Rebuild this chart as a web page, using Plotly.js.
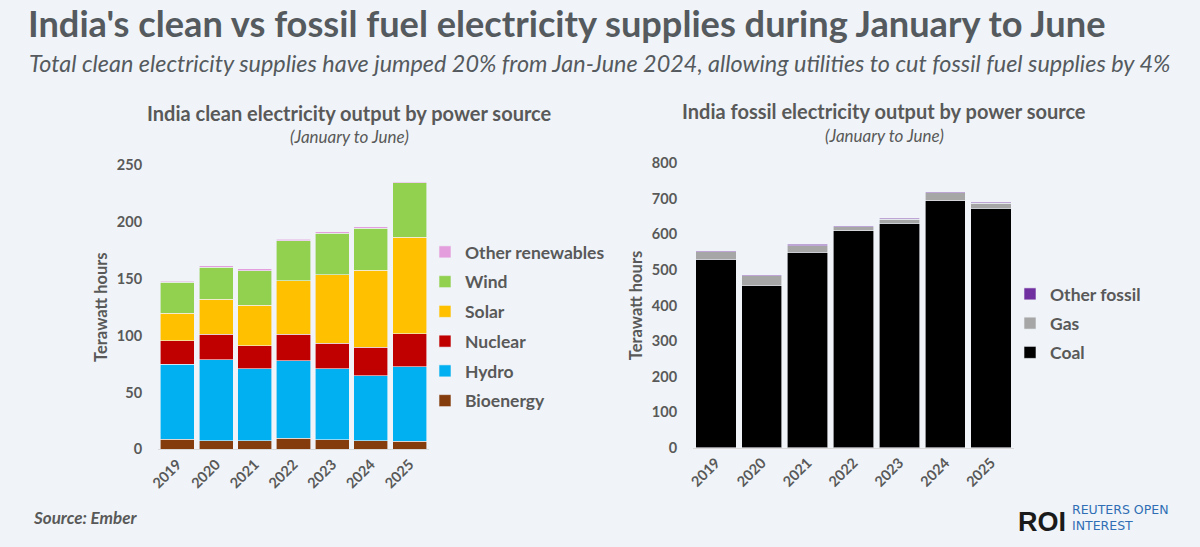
<!DOCTYPE html>
<html>
<head>
<meta charset="utf-8">
<script src="https://cdn.plot.ly/plotly-3.0.1.min.js"></script>
<style>html,body{margin:0;padding:0;background:#f0f4f8;}</style>
</head>
<body>
<div id="chart" style="width:1200px;height:547px;"></div>
<script>
// ---- Data (TWh, January to June) ----
const years = ['2019', '2020', '2021', '2022', '2023', '2024', '2025'];

const bioenergy       = [8.8, 7.6, 7.6, 9.7, 8.5, 7.6, 7.0];
const hydro           = [66.0, 71.2, 63.3, 68.0, 62.4, 56.9, 65.4];
const nuclear         = [20.5, 22.3, 20.2, 23.4, 22.3, 25.2, 29.3];
const solar           = [24.5, 30.8, 35.5, 47.2, 60.1, 67.7, 84.8];
const wind            = [27.3, 28.4, 30.5, 35.2, 36.7, 37.2, 48.0];
const otherRenewables = [0.8, 0.9, 1.5, 1.2, 1.1, 1.2, 0.9];

const coal        = [530, 457, 550, 610, 632, 695, 674];
const gas         = [20.6, 26, 18.5, 11, 11, 22, 13];
const otherFossil = [3.8, 3, 3.5, 3, 3, 3, 3];

const cleanNames  = ['Bioenergy', 'Hydro', 'Nuclear', 'Solar', 'Wind', 'Other renewables'];
const cleanSeries = [bioenergy, hydro, nuclear, solar, wind, otherRenewables];
const cleanColors = ['#843c0c', '#00b0f0', '#c00000', '#ffc000', '#92d050', '#e49edd'];

const fossilNames  = ['Coal', 'Gas', 'Other fossil'];
const fossilSeries = [coal, gas, otherFossil];
const fossilColors = ['#000000', '#a6a6a6', '#7030a0'];

// ---- Styling ----
const BG = '#f0f4f8';
const TXT = '#595959';
const SANS = 'Lato, "Open Sans", sans-serif';

const traces = [];
cleanSeries.forEach((vals, i) => {
  traces.push({
    type: 'bar', x: years, y: vals, name: cleanNames[i],
    marker: {color: cleanColors[i], line: {color: BG, width: 0.6}},
    xaxis: 'x', yaxis: 'y', legend: 'legend', legendgroup: 'c' + i,
    legendrank: 100 - i,
    hoverinfo: 'x+y+name'
  });
});
fossilSeries.forEach((vals, i) => {
  traces.push({
    type: 'bar', x: years, y: vals, name: fossilNames[i],
    marker: {color: fossilColors[i], line: {color: BG, width: 0.6}},
    xaxis: 'x2', yaxis: 'y2', legend: 'legend2', legendgroup: 'f' + i,
    legendrank: 100 - i,
    hoverinfo: 'x+y+name'
  });
});

const H = 547, W = 1200;
const py = v => 1 - v / H;
const px = v => v / W;

const tickFont = {family: SANS, size: 14.5, color: TXT, weight: 700};
const axTitleFont = {family: SANS, size: 16.5, color: TXT, weight: 700};
const legFont = {family: SANS, size: 17.5, color: TXT, weight: 700};

const layout = {
  width: W, height: H,
  margin: {l: 0, r: 0, t: 0, b: 0},
  paper_bgcolor: BG, plot_bgcolor: BG,
  barmode: 'stack', bargap: 0.12,
  showlegend: true,
  font: {family: SANS, color: TXT},
  xaxis: {
    type: 'category',
    domain: [px(158), px(429)], anchor: 'y',
    tickangle: -45, tickfont: tickFont,
    showline: true, linecolor: '#d9d9d9', linewidth: 1,
    ticks: '', showgrid: false
  },
  yaxis: {
    domain: [py(449.3), py(165)], anchor: 'x',
    range: [0, 250], dtick: 50, tickfont: tickFont,
    showgrid: false, zeroline: false, ticks: 'outside', ticklen: 12, tickcolor: BG,
    title: {text: 'Terawatt hours', font: axTitleFont, standoff: 5}
  },
  xaxis2: {
    type: 'category',
    domain: [px(693), px(1014)], anchor: 'y2',
    tickangle: -45, tickfont: tickFont,
    showline: true, linecolor: '#d9d9d9', linewidth: 1,
    ticks: '', showgrid: false
  },
  yaxis2: {
    domain: [py(447.7), py(163.3)], anchor: 'x2',
    range: [0, 800], dtick: 100, tickfont: tickFont,
    showgrid: false, zeroline: false, ticks: 'outside', ticklen: 12, tickcolor: BG,
    title: {text: 'Terawatt hours', font: axTitleFont, standoff: 5}
  },
  legend: {
    x: px(425), y: py(234), xanchor: 'left', yanchor: 'top',
    traceorder: 'grouped', tracegroupgap: 4,
    bgcolor: 'rgba(0,0,0,0)',
    font: legFont
  },
  legend2: {
    x: px(1010), y: py(276), xanchor: 'left', yanchor: 'top',
    traceorder: 'grouped', tracegroupgap: 3.5,
    bgcolor: 'rgba(0,0,0,0)',
    font: legFont
  },
  annotations: [
    {text: "India's clean vs fossil fuel electricity supplies during January to June",
     x: px(26), y: py(23), xref: 'paper', yref: 'paper', xanchor: 'left', yanchor: 'middle',
     showarrow: false, font: {family: SANS, size: 36.2, color: '#555a5e', weight: 700}},
    {text: 'Total clean electricity supplies have jumped 20% from Jan-June 2024, allowing utilities to cut fossil fuel supplies by 4%',
     x: px(27), y: py(63), xref: 'paper', yref: 'paper', xanchor: 'left', yanchor: 'middle',
     showarrow: false, font: {family: SANS, size: 23.4, color: '#555a5e', style: 'italic'}},
    {text: 'India clean electricity output by power source',
     x: px(349), y: py(113), xref: 'paper', yref: 'paper', xanchor: 'center', yanchor: 'middle',
     showarrow: false, font: {family: SANS, size: 20, color: TXT, weight: 700}},
    {text: '(January to June)',
     x: px(349), y: py(137), xref: 'paper', yref: 'paper', xanchor: 'center', yanchor: 'middle',
     showarrow: false, font: {family: SANS, size: 17, color: TXT, style: 'italic'}},
    {text: 'India fossil electricity output by power source',
     x: px(884), y: py(111), xref: 'paper', yref: 'paper', xanchor: 'center', yanchor: 'middle',
     showarrow: false, font: {family: SANS, size: 20, color: TXT, weight: 700}},
    {text: '(January to June)',
     x: px(884), y: py(135), xref: 'paper', yref: 'paper', xanchor: 'center', yanchor: 'middle',
     showarrow: false, font: {family: SANS, size: 17, color: TXT, style: 'italic'}},
    {text: '<b><i>Source: Ember</i></b>',
     x: px(31), y: py(517), xref: 'paper', yref: 'paper', xanchor: 'left', yanchor: 'middle',
     showarrow: false, font: {family: SANS, size: 17, color: TXT}},
    {text: '<b>ROI</b>',
     x: px(1016), y: py(522), xref: 'paper', yref: 'paper', xanchor: 'left', yanchor: 'middle',
     showarrow: false, font: {family: '"Liberation Sans", Arial, sans-serif', size: 27, color: '#1a1a1a'}},
    {text: 'REUTERS OPEN<br>INTEREST',
     x: px(1070), y: py(517), xref: 'paper', yref: 'paper', xanchor: 'left', yanchor: 'middle', align: 'left',
     showarrow: false, font: {family: '"DejaVu Sans", sans-serif', size: 12.5, color: '#2f6eb5'}}
  ]
};

Plotly.newPlot('chart', traces, layout, {displayModeBar: false, staticPlot: true});
</script>
</body>
</html>
